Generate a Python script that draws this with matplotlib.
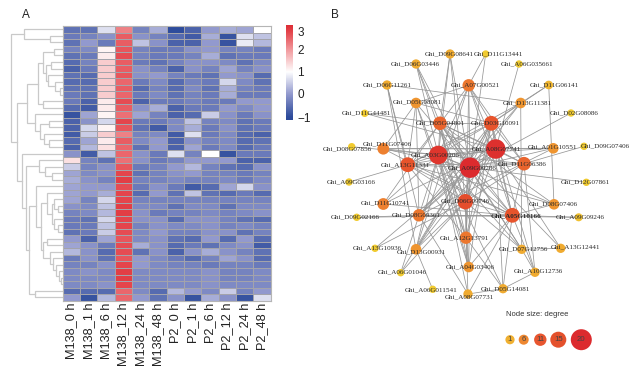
import numpy as np
import matplotlib
matplotlib.use("Agg")
import matplotlib.pyplot as plt
from matplotlib.colors import LinearSegmentedColormap

W, H = 638, 371

# ---------- heatmap data ----------
samples = ["M138_0 h", "M138_1 h", "M138_6 h", "M138_12 h", "M138_24 h", "M138_48 h",
           "P2_0 h", "P2_1 h", "P2_6 h", "P2_12 h", "P2_24 h", "P2_48 h"]
expr = [
 [-.5,-.5,.7,2.3,-.3,.2,-1,-.7,0,.2,.1,1],
 [-.4,-.3,-.1,2.7,-.1,-.3,-.6,-.8,.2,-.9,.7,.4],
 [-.5,0,-.4,2.7,.4,-.1,-.7,-.7,0,-.9,.8,.3],
 [-.3,-.2,1.1,2.8,-.3,-.4,-.4,-.1,0,-.3,-.3,-.4],
 [-.5,-.4,1.2,2.9,-.3,-.4,-.4,-.3,.2,-.5,-.4,-.4],
 [-.6,-.3,1.5,2.7,-.4,-.5,-.3,-.1,-.1,-.2,-.5,-.2],
 [-.7,-.4,1.5,2.7,-.1,-.3,-.7,-.1,-.3,.1,-.3,-.1],
 [-.5,-.6,1.5,2.8,-.1,0,-.3,-.4,-.5,0,-.1,-.6],
 [-.6,-.6,1.5,2.6,-.4,-.2,-.6,-.3,-.4,.6,-.2,-.5],
 [-.5,-.5,1.5,2.7,-.6,-.3,-.6,-.2,-.5,.2,-.3,-.4],
 [-.4,-.5,1.5,2.6,-.4,-.2,-.5,-.3,-.4,.2,-.4,-.4],
 [-.4,-.7,1.2,2.9,-.7,-.4,-.4,-.3,-.4,-.4,0,0],
 [-.6,-.8,1.2,2.7,-.1,.2,-.7,-.4,-.4,0,-.2,0],
 [-.9,.1,1.1,2.5,.1,-.3,-.7,-.6,.5,-.1,-.4,-.1],
 [-.7,-.1,.6,3,-.4,-.4,-.2,.4,-.3,-.2,-.5,-.4],
 [-.7,.6,1.1,2.8,-.5,-.8,-.2,.2,-.4,-.1,-.5,-.4],
 [-.8,.5,1.5,2.3,-.3,-.2,-.8,.7,-.4,-.2,-.6,-.7],
 [-.6,.1,1.2,2.7,-.2,0,-.7,-.1,-.3,-.2,-.6,-.5],
 [-.7,.3,1.3,2.6,-.5,0,-.7,.1,-.4,-.2,-.6,-.4],
 [-.1,-.8,.4,2.6,-.1,-.4,.7,-.3,1,-.9,-.4,-.4],
 [1.3,-.3,-.5,2.5,-.1,-.4,-.3,0,0,0,-.7,-.7],
 [.5,-.3,-.1,2.8,-.4,-.3,0,.3,-.3,-.5,-.6,-.1],
 [.1,-.2,-.1,3,-.5,-.3,-.1,0,-.3,-.3,-.4,-.3],
 [.2,-.1,-.3,3.1,-.3,-.3,-.2,-.3,-.3,-.2,-.4,-.2],
 [.1,0,0,2.9,-.4,-.1,-.4,-.8,-.6,.1,.6,-.1],
 [.1,0,.2,3,-.6,0,-.5,.4,-.5,-.6,-.4,-.6],
 [.1,-.3,.6,3,-.3,-.3,-.3,-.3,-.3,-.3,-.3,-.3],
 [-.1,-.2,.4,3.1,-.2,-.2,-.5,-.2,-.2,-.5,-.2,-.2],
 [-.3,-.2,.3,3.1,-.1,-.4,-.3,-.3,-.2,-.3,-.2,-.1],
 [-.4,-.5,.6,3,-.1,-.1,-.6,-.1,-.1,-.3,-.5,-.6],
 [-.4,-.4,.4,3,-.3,-.1,-.2,-.2,-.1,-.3,-.2,-.3],
 [-.5,-.4,.5,2.9,-.2,0,-.3,-.3,-.1,-.1,-.5,-.3],
 [0,-.7,.1,2.8,-.2,-.1,-.5,-.6,0,-.6,0,-.6],
 [.1,-.1,-.4,2.9,.2,-.1,-.6,-.4,-.5,-.2,-.1,-.8],
 [.3,-.1,-.6,2.9,-.5,-.1,-.7,-.1,.2,-.1,-.3,-.5],
 [-.4,-.1,-.5,2.8,0,-.2,-.4,-.6,-.3,.1,-.1,-.6],
 [-.3,-.3,-.1,3,0,-.2,-.3,-.3,-.4,-.3,-.3,-.4],
 [-.2,-.1,-.2,3.1,-.2,-.2,-.2,-.2,-.1,-.3,-.3,-.2],
 [-.2,-.2,-.2,3.1,-.2,-.2,-.2,-.2,-.1,-.3,-.3,-.2],
 [-.2,-.2,-.1,3,-.2,-.2,-.2,-.2,-.1,-.2,-.2,-.2],
 [-.6,-.6,-.6,2.6,-.2,-.6,.3,0,-.2,.5,-.3,0],
 [0,-.9,.3,2.6,0,-.5,-.1,-.9,.2,-.1,-.9,.7],
]

# row clustering: (merge height, child, child); integers are heatmap rows
row_tree = (11,
    (24, 0, (50, 1, 2)),
    (16.7,
        (26.7,
            (38.3,
                (42.7, (54, 3, 4),
                    (46, (51, 5, 6), (47.5, 7, (55, 8, (60, 9, 10))))),
                (42.7, 11, 12)),
            (35, 13, (40, (49, 14, 15), (44, 16, (49, 17, 18))))),
        (21.7, 19,
            (26,
                (38.5, 20, (45, 21, (52, 22, 23))),
                (29.3,
                    (36, 24,
                        (40.7,
                            (46.7, 25, (52, (54, 26, (58, 27, 28)), (54, 29, (58, 30, 31)))),
                            (43.3, (47, 32, 33),
                                (50, 34, (53, 35, (56, 36, (59, 37, (61, 38, 39)))))))),
                    (34.5, 40, 41))))))

cbar_ticks = [3, 2, 1, 0, -1]
cbar_tick_px = [32, 50, 72, 94, 117]

# ---------- network data ----------
node_names = ["D09G08641","D11G13441","A06G035661","D06G03446","D06G11261","A07G00521","D11G06141",
 "D05G08081","D13G11381","D11G44481","D02G08086","D05G04801","D03G10091","D08G07856","D11G07406",
 "A03G00206","A08G07741","A01G10551","D09G07406","A13G11331","A09G00286","D11G06386","A09G03166",
 "D12G07861","D11G10741","D06G09746","D08G07406","D09G02166","D08G09361","A05G10166","A09G09246",
 "A12G13791","A13G10936","D13G00931","D07G12756","A13G12441","A04G03406","A06G01046","A10G12736",
 "A06G011541","D05G14081","A08G07731"]
node_x = [450,485.7,519,416,387,468.7,548.7,416,520.7,364.7,571,440,491.3,351.7,383.3,438.3,495.7,553.3,584,
 407.7,470,524,349,586.3,383.3,465.3,554,356.7,419,512.3,578.7,466,375,416,521.7,560.7,468.7,400.7,535,432.7,503,468]
node_y = [54,54,64,64,85,85.3,85,103,103,113.3,113,123.3,123.3,146.7,148.7,155,149,148.3,146.3,164.7,167.7,
 163.7,182,182.3,204,201.7,204.3,217.3,215.3,215.3,217.3,237.7,248.3,249.3,249.3,248.3,267,272.7,272.3,289.3,288.7,294]
node_degree = [4,1,1,4,4,9,3,6,6,1,1,11,13,1,8,18,19,6,1,13,20,11,1,1,8,14,6,1,9,13,2,9,1,6,4,4,6,1,4,1,4,4]
label_x = [449,498.7,526.9,415,387.7,475,554,417,527,366,574,440.7,495.7,347.3,387,435,496.7,552,605.7,
 405.7,472.3,522.3,351.7,585.7,385.7,465.3,553.7,355,416.7,516,580.7,464,377.7,421.3,523.3,575.3,470,402.7,538.3,430.7,505.3,469]
label_y = [53.7,53.7,64,64,84.7,85.3,85,102,103,113.3,113,123.3,123.3,149,143.7,155,149,147.3,145.7,165,168.3,
 163.7,182,182.3,203,201,203.7,217.3,215,216,217.3,237.7,247.7,252,249,247.3,267,272.3,271.3,290,289,297]
bold_nodes = ["A05G10166"]

hubs = ["A09G00286","A08G07741","A03G00206","D06G09746","A05G10166","D03G10091","D05G04801","A13G11331","D11G06386"]
edges = [
 ("D09G08641","A03G00206"),("D09G08641","D05G04801"),("D09G08641","A09G00286"),("D09G08641","D06G09746"),
 ("D11G13441","A07G00521"),("D11G13441","D06G09746"),("A06G035661","A08G07741"),
 ("D06G03446","D05G04801"),("D06G03446","A09G00286"),("D06G03446","A03G00206"),("D06G03446","D06G09746"),
 ("D06G11261","D13G11381"),("D06G11261","D08G09361"),("D06G11261","A13G11331"),("D06G11261","D13G00931"),
 ("D11G06141","D13G11381"),("D11G06141","D03G10091"),("D11G06141","D08G07406"),
 ("A07G00521","D05G04801"),("A07G00521","D03G10091"),("A07G00521","A09G00286"),("A07G00521","A08G07741"),
 ("A07G00521","D11G06386"),("A07G00521","D05G08081"),("A07G00521","A05G10166"),("A07G00521","D13G00931"),
 ("A07G00521","A03G00206"),("A07G00521","A12G13791"),
 ("D02G08086","A09G00286"),("D11G44481","D05G04801"),("D11G44481","A08G07741"),
 ("D05G08081","A13G11331"),("D05G08081","A09G00286"),("D05G08081","D03G10091"),("D05G08081","D11G07406"),
 ("D05G08081","D08G09361"),("D05G08081","A12G13791"),
 ("D13G11381","D03G10091"),("D13G11381","D07G12756"),("D13G11381","A09G00286"),("D13G11381","D08G09361"),("D13G11381","A13G11331"),
 ("D08G07856","A03G00206"),("D09G07406","D11G06386"),("A09G03166","A13G11331"),("D12G07861","A09G00286"),
 ("A01G10551","A08G07741"),("A01G10551","A09G00286"),("A01G10551","D11G07406"),("A01G10551","A03G00206"),("A01G10551","D08G09361"),
 ("D11G07406","A03G00206"),("D11G07406","A09G00286"),("D11G07406","A08G07741"),("D11G07406","A05G10166"),
 ("D11G10741","A03G00206"),("D11G10741","D05G04801"),("D11G10741","A08G07741"),("D11G10741","A05G10166"),
 ("D09G02166","D08G09361"),("D09G02166","A05G10166"),("A09G09246","A05G10166"),("A09G09246","D08G09361"),
 ("D08G07406","A05G10166"),("D08G07406","A03G00206"),("D08G07406","D05G04801"),("D08G07406","A13G11331"),
 ("D08G09361","A03G00206"),("D08G09361","A09G00286"),("D08G09361","A08G07741"),("D08G09361","D03G10091"),("D08G09361","A05G10166"),
 ("A13G10936","A09G00286"),("A13G10936","D06G09746"),
 ("A13G12441","A08G07741"),("A13G12441","D07G12756"),("A13G12441","D05G04801"),
 ("A10G12736","A05G10166"),("A10G12736","D07G12756"),("A10G12736","D11G06386"),("A10G12736","D03G10091"),
 ("D05G14081","A05G10166"),("D05G14081","A10G12736"),("D05G14081","A12G13791"),("D05G14081","A08G07741"),("D05G14081","A03G00206"),
 ("A08G07731","A12G13791"),("A08G07731","D08G09361"),("A08G07731","D05G14081"),("A08G07731","A05G10166"),("A08G07731","A03G00206"),
 ("A04G03406","A12G13791"),("A04G03406","A09G00286"),("A04G03406","D05G04801"),("A04G03406","D06G09746"),("A04G03406","A05G10166"),
 ("A04G03406","A03G00206"),("A04G03406","D03G10091"),("A04G03406","D05G08081"),
 ("A06G01046","D08G09361"),("A06G01046","D06G09746"),("A06G01046","D03G10091"),("A06G011541","D13G00931"),
 ("D13G00931","A09G00286"),("D13G00931","A08G07741"),("D13G00931","D06G09746"),("D13G00931","D03G10091"),("D13G00931","A03G00206"),
 ("D07G12756","A09G00286"),("D07G12756","A03G00206"),("D07G12756","D05G04801"),("D07G12756","D06G09746"),
 ("A12G13791","A09G00286"),("A12G13791","A08G07741"),("A12G13791","A03G00206"),("A12G13791","D06G09746"),("A12G13791","D03G10091"),
 ("A12G13791","D05G04801"),("A12G13791","A13G11331"),
]
edges += [(a, b) for i, a in enumerate(hubs) for b in hubs[i + 1:]]

legend_degrees = [1, 6, 11, 15, 20]
legend_px_x = [510, 523.7, 540.3, 558.3, 581.3]
legend_px_r = [4.6, 5, 6.2, 8, 10.5]

# ---------- styles ----------
heat_cmap = LinearSegmentedColormap.from_list("heat", [
    (0.0, "#2a4898"), (0.2/4.6, "#2e4c9c"), (1.2/4.6, "#939ace"), (2.2/4.6, "#ffffff"),
    (3.2/4.6, "#f29a9e"), (4.2/4.6, "#e4454c"), (1.0, "#dc2b33")])
VMIN, VMAX = -1.2, 3.4
deg_cmap = LinearSegmentedColormap.from_list("deg", [
    (0, "#f1cb30"), (3/19, "#f0ab30"), (6/19, "#ee8a30"), (11/19, "#e85a2c"), (15/19, "#e2412c"), (1, "#dc2b2e")])

plt.rcParams["font.family"] = ["Liberation Sans", "DejaVu Sans"]
fig = plt.figure(figsize=(W / 100, H / 100), dpi=100)

def px_axes(x0, y0, x1, y1):
    return fig.add_axes([x0 / W, 1 - y1 / H, (x1 - x0) / W, (y1 - y0) / H])

# canvas in pixel coordinates
bg = fig.add_axes([0, 0, 1, 1])
bg.set_xlim(0, W); bg.set_ylim(H, 0); bg.axis("off")

# heatmap
HX0, HY0, HX1, HY1 = 62.7, 26, 270.7, 300.7
ax = px_axes(HX0, HY0, HX1, HY1)
data = np.array(expr)
ax.pcolormesh(data, cmap=heat_cmap, vmin=VMIN, vmax=VMAX, edgecolors="#a3a3ab", linewidth=0.6)
ax.set_ylim(len(expr), 0)
ax.set_yticks([])
ax.set_xticks(np.arange(len(samples)) + 0.5)
ax.set_xticklabels(samples, rotation=90, fontsize=9.2, color="#222222")
ax.tick_params(axis="x", length=0, pad=1.5)
for s in ax.spines.values():
    s.set_color("#b5b5b5"); s.set_linewidth(0.8)

# dendrogram
row_h = (HY1 - HY0) / len(expr)
def draw(node):
    if isinstance(node, int):
        return HX0, HY0 + row_h * (node + 0.5)
    x, a, b = node
    xa, ya = draw(a)
    xb, yb = draw(b)
    bg.plot([xa, x, x, xb], [ya, ya, yb, yb], color="#c9c9c9", lw=0.9, solid_joinstyle="miter")
    return x, (ya + yb) / 2
draw(row_tree)

# colour bar
cax = px_axes(285.7, 25.3, 292.3, 120)
ys = np.linspace(25.3, 120, 200)
vals = np.interp(ys, [25.3] + cbar_tick_px + [120], [3.35] + cbar_ticks + [-1.12])
cax.imshow(vals[:, None], aspect="auto", cmap=heat_cmap, vmin=VMIN, vmax=VMAX,
           extent=[0, 1, 120, 25.3], interpolation="bilinear")
cax.set_xticks([])
cax.yaxis.tick_right()
cax.set_yticks(cbar_tick_px)
cax.set_yticklabels([str(t).replace("-", "\u2212") for t in cbar_ticks], fontsize=8.5, color="#222222")
cax.tick_params(axis="y", length=0, pad=3.5)
for s in cax.spines.values():
    s.set_visible(False)

# network
pos = {n: (x, y) for n, x, y in zip(node_names, node_x, node_y)}
for a, b in edges:
    bg.plot([pos[a][0], pos[b][0]], [pos[a][1], pos[b][1]], color="#969696", lw=0.55, zorder=2)

def diam_pts2(r):
    return (2 * np.asarray(r) * 0.72) ** 2

deg = np.array(node_degree, dtype=float)
radius = np.interp(deg, [1, 6, 11, 15, 20], [3.7, 5.3, 6.8, 8, 10.2])
bg.scatter(node_x, node_y, s=diam_pts2(radius), c=deg, cmap=deg_cmap, vmin=1, vmax=20,
           linewidths=0, zorder=3)
for n, x, y in zip(node_names, label_x, label_y):
    bg.text(x, y, "Ghi_" + n, family=["Liberation Serif"], fontsize=5.1,
            fontweight="bold" if n in bold_nodes else "normal",
            ha="center", va="center", color="#2a2a2a", zorder=4)

# size legend
bg.text(505.7, 314.5, "Node size: degree", fontsize=5.5, color="#333333", ha="left", va="center")
bg.scatter(legend_px_x, [339.7] * 5, s=diam_pts2(legend_px_r), c=legend_degrees,
           cmap=LinearSegmentedColormap.from_list("leg", ["#f0b030", "#ee8a30", "#e9572f", "#e4512c", "#dc2b2e"]),
           linewidths=0, zorder=3)
for x, d in zip(legend_px_x, legend_degrees):
    bg.text(x, 339.7, str(d), fontsize=5.6, ha="center", va="center", color="#444444", zorder=4)

# panel letters
bg.text(25.5, 15, "A", fontsize=8.5, ha="center", va="center", color="#222222")
bg.text(334.7, 15, "B", fontsize=8.5, ha="center", va="center", color="#222222")

fig.savefig("out.png", dpi=100)
